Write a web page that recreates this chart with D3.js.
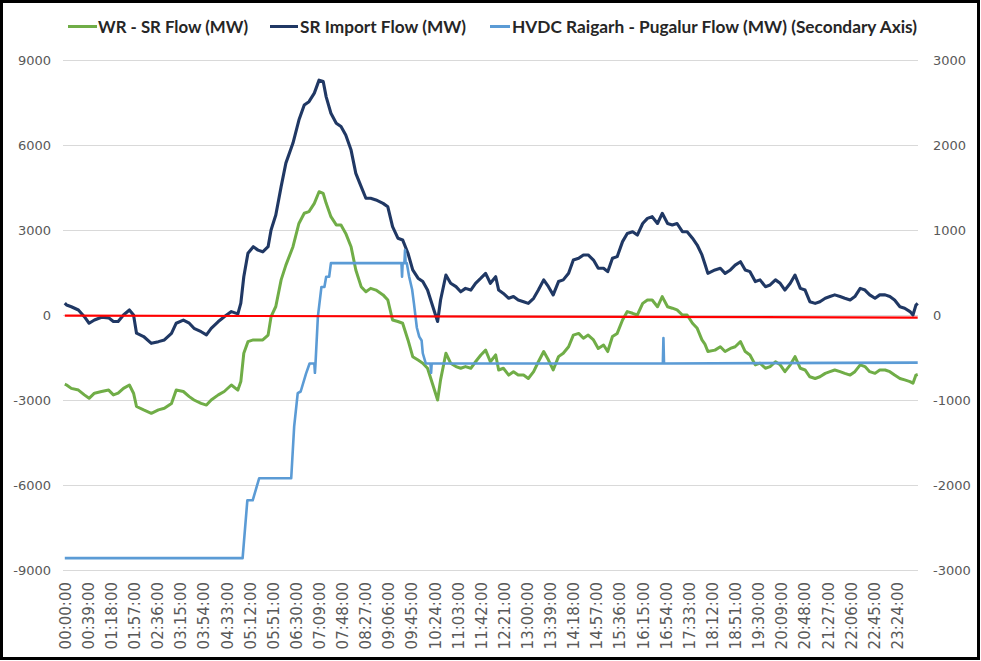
<!DOCTYPE html>
<html>
<head>
<meta charset="utf-8">
<script src="https://cdn.jsdelivr.net/npm/d3@7"></script>
<style>
  html, body { margin: 0; padding: 0; background: #ffffff; }
  svg { display: block; }
</style>
</head>
<body>
<svg id="chart" width="981" height="661"></svg>
<script>
// ---------------- DATA ----------------
const seriesNames = [
  "WR - SR Flow (MW)",
  "SR Import Flow (MW)",
  "HVDC Raigarh - Pugalur Flow (MW) (Secondary Axis)"
];

// sample times, minutes after midnight
const sampleMinutes = [0,3,11,23,33,41,50,62,74,82,90,99,109,116,121,133,146,158,168,180,188,200,210,218,230,239,247,259,269,281,292,297,302,309,318,326,334,343,348,356,365,373,385,395,404,412,421,429,436,441,449,458,466,474,483,491,500,508,516,525,537,545,553,562,570,579,587,596,604,612,621,629,634,643,651,660,668,676,685,693,702,710,718,727,732,740,749,757,765,774,782,791,799,808,816,824,833,841,850,858,867,875,883,892,900,909,916,924,932,941,949,958,966,975,983,991,1000,1008,1017,1025,1033,1042,1050,1059,1067,1075,1080,1085,1097,1106,1114,1123,1131,1140,1148,1156,1165,1173,1182,1190,1199,1207,1215,1224,1232,1241,1249,1257,1266,1274,1283,1291,1299,1308,1316,1325,1333,1342,1350,1358,1367,1375,1384,1392,1400,1409,1417,1426,1431,1436,1439];

// SR Import Flow (MW) - primary axis
const srImportFlow = [420,353,290,176,-60,-290,-176,-80,-100,-230,-230,0,176,0,-640,-760,-1000,-940,-880,-650,-290,-180,-290,-470,-590,-700,-470,-230,-60,120,40,420,1350,2180,2410,2290,2230,2410,3000,3530,4530,5360,6070,6880,7410,7530,7830,8290,8240,7700,7120,6770,6650,6350,5820,5000,4530,4120,4120,4060,3940,3820,3120,2710,2650,2180,1590,1300,1180,880,290,-230,530,1410,1120,1000,820,940,880,1120,1300,1470,1120,1350,880,760,590,650,530,470,410,590,880,1240,1000,710,1180,1240,1470,1940,2000,2120,2120,1940,1650,1650,1530,2000,2060,2590,2880,2940,2820,3230,3410,3470,3230,3590,3230,3180,3230,2940,2940,2710,2470,2120,1800,1470,1590,1650,1470,1590,1760,1880,1590,1530,1180,1240,1000,1060,1240,1120,880,1120,1410,940,880,470,410,470,590,650,710,650,590,530,650,940,880,710,590,710,710,650,530,290,240,120,0,350,410];

// WR - SR Flow (MW) - primary axis
const wrSrFlow = [-2440,-2470,-2590,-2650,-2820,-2940,-2760,-2700,-2650,-2820,-2760,-2590,-2470,-2760,-3230,-3350,-3470,-3350,-3290,-3120,-2650,-2700,-2880,-3000,-3120,-3180,-3000,-2820,-2700,-2470,-2650,-2350,-1350,-940,-880,-880,-880,-710,-60,300,1240,1760,2410,3230,3590,3650,3940,4350,4290,3940,3470,3180,3180,2880,2410,1590,1000,820,940,880,710,530,-176,-230,-290,-880,-1470,-1590,-1700,-1880,-2470,-3000,-2290,-1350,-1700,-1820,-1880,-1820,-1880,-1650,-1410,-1240,-1650,-1410,-1940,-1880,-2120,-2000,-2120,-2120,-2240,-2000,-1650,-1290,-1590,-1940,-1470,-1350,-1120,-710,-650,-820,-710,-880,-1180,-1060,-1290,-760,-650,-176,120,60,0,410,530,530,290,650,290,240,180,0,0,-290,-470,-880,-1030,-1290,-1240,-1120,-1290,-1180,-1120,-940,-1290,-1410,-1760,-1700,-1880,-1820,-1650,-1760,-2000,-1760,-1470,-1880,-1940,-2180,-2240,-2180,-2060,-2000,-1940,-2000,-2060,-2120,-2000,-1760,-1820,-2000,-2060,-1940,-1940,-2000,-2120,-2240,-2290,-2350,-2410,-2120,-2100];

// HVDC Raigarh - Pugalur Flow (MW) - secondary axis
const hvdcMinutes = [0,300,308,317,328,382,387,393,398,407,413,421,422,423,427,433,438,441,446,449,568,569,570,573,574,575,577,581,586,589,594,598,602,604,609,617,618,619,1009,1010,1011,1439];
const hvdcFlow = [-2860,-2860,-2180,-2180,-1920,-1920,-1310,-920,-900,-690,-570,-570,-680,-570,-20,330,330,450,450,610,610,450,610,610,765,610,610,450,300,140,-150,-255,-300,-450,-570,-570,-680,-570,-570,-270,-570,-560];

// red reference line (primary axis)
const refLineMinutes = [0, 1439];
const refLineValues = [-20, -90];

const leftTicks = [-9000, -6000, -3000, 0, 3000, 6000, 9000];
const rightTicks = [-3000, -2000, -1000, 0, 1000, 2000, 3000];
const xTickMinutes = d3.range(0, 1440, 39);

// ---------------- DRAWING ----------------
const svg = d3.select("#chart");
const W = 981, H = 661;
const plot = { left: 63, right: 918, top: 60, bottom: 570 };

svg.append("rect").attr("x", 0).attr("y", 0).attr("width", W).attr("height", H).attr("fill", "#ffffff");

const x = d3.scaleLinear().domain([0, 1440]).range([64.5, 918]);
const px = t => x(t + 0.5);
const yL = d3.scaleLinear().domain([-9000, 9000]).range([plot.bottom, plot.top]);
const yR = d3.scaleLinear().domain([-3000, 3000]).range([plot.bottom, plot.top]);

// gridlines
svg.append("g").selectAll("line").data(leftTicks).join("line")
  .attr("x1", plot.left).attr("x2", plot.right)
  .attr("y1", d => Math.round(yL(d)) + 0.5).attr("y2", d => Math.round(yL(d)) + 0.5)
  .attr("stroke", "#d9d9d9").attr("stroke-width", 1.2);

const numFmt = d => String(d);

// left axis
const gL = svg.append("g").attr("transform", `translate(${plot.left},0)`)
  .call(d3.axisLeft(yL).tickValues(leftTicks).tickSize(0).tickPadding(12).tickFormat(numFmt));
gL.select(".domain").remove();
gL.selectAll("text").attr("font-family", "DejaVu Sans").attr("font-size", 13).attr("fill", "#595959");

// right axis
const gR = svg.append("g").attr("transform", `translate(${plot.right},0)`)
  .call(d3.axisRight(yR).tickValues(rightTicks).tickSize(0).tickPadding(15).tickFormat(numFmt));
gR.select(".domain").remove();
gR.selectAll("text").attr("font-family", "DejaVu Sans").attr("font-size", 13).attr("fill", "#595959");

// x axis
const fmt = m => {
  const h = Math.floor(m / 60), mm = m % 60;
  return String(h).padStart(2, "0") + ":" + String(mm).padStart(2, "0") + ":00";
};
const xAxisScale = d3.scaleLinear().domain([0, 1440]).range([64.5 + 0.5 * (853.5 / 1440), 918 + 0.5 * (853.5 / 1440)]);
const gX = svg.append("g").attr("transform", `translate(0,${plot.bottom})`)
  .call(d3.axisBottom(xAxisScale).tickValues(xTickMinutes).tickSize(0).tickFormat(fmt));
gX.select(".domain").remove();
gX.selectAll("text")
  .attr("font-family", "DejaVu Sans").attr("font-size", 15).attr("fill", "#595959")
  .attr("text-anchor", "end")
  .attr("transform", "rotate(-90)")
  .attr("x", -12).attr("y", 0).attr("dy", "0.36em");

const lineL = d3.line().x(d => px(d[0])).y(d => yL(d[1]));
const lineR = d3.line().x(d => px(d[0])).y(d => yR(d[1]));

const gLines = svg.append("g");
gLines.append("path")
  .datum(sampleMinutes.map((t, i) => [t, wrSrFlow[i]]))
  .attr("d", lineL).attr("fill", "none").attr("stroke", "#70ad47").attr("stroke-width", 3).attr("stroke-linejoin", "round");
gLines.append("path")
  .datum(sampleMinutes.map((t, i) => [t, srImportFlow[i]]))
  .attr("d", lineL).attr("fill", "none").attr("stroke", "#203864").attr("stroke-width", 3.1).attr("stroke-linejoin", "round");
gLines.append("path")
  .datum(hvdcMinutes.map((t, i) => [t, hvdcFlow[i]]))
  .attr("d", lineR).attr("fill", "none").attr("stroke", "#5b9bd5").attr("stroke-width", 2.6).attr("stroke-linejoin", "round");
gLines.append("path")
  .datum(refLineMinutes.map((t, i) => [t, refLineValues[i]]))
  .attr("d", lineL).attr("fill", "none").attr("stroke", "#ff0000").attr("stroke-width", 2.2);

// legend
const legendItems = [
  { name: seriesNames[0], color: "#70ad47", x1: 68, x2: 97, tx: 98, len: 150 },
  { name: seriesNames[1], color: "#203864", x1: 270, x2: 298, tx: 300, len: 166 },
  { name: seriesNames[2], color: "#5b9bd5", x1: 490, x2: 510, tx: 512, len: 405 }
];
const gLeg = svg.append("g");
legendItems.forEach(it => {
  gLeg.append("line").attr("x1", it.x1).attr("x2", it.x2).attr("y1", 26.5).attr("y2", 26.5)
    .attr("stroke", it.color).attr("stroke-width", 3);
  gLeg.append("text").attr("x", it.tx).attr("y", 32.5)
    .attr("font-family", "Lato, 'Open Sans', sans-serif").attr("font-weight", "bold").attr("font-size", 17)
    .attr("fill", "#262626")
    .attr("textLength", it.len).attr("lengthAdjust", "spacingAndGlyphs")
    .text(it.name);
});

// outer border
svg.append("rect").attr("x", 1.5).attr("y", 1.5).attr("width", 977).attr("height", 657)
  .attr("fill", "none").attr("stroke", "#000000").attr("stroke-width", 3);
</script>
</body>
</html>
